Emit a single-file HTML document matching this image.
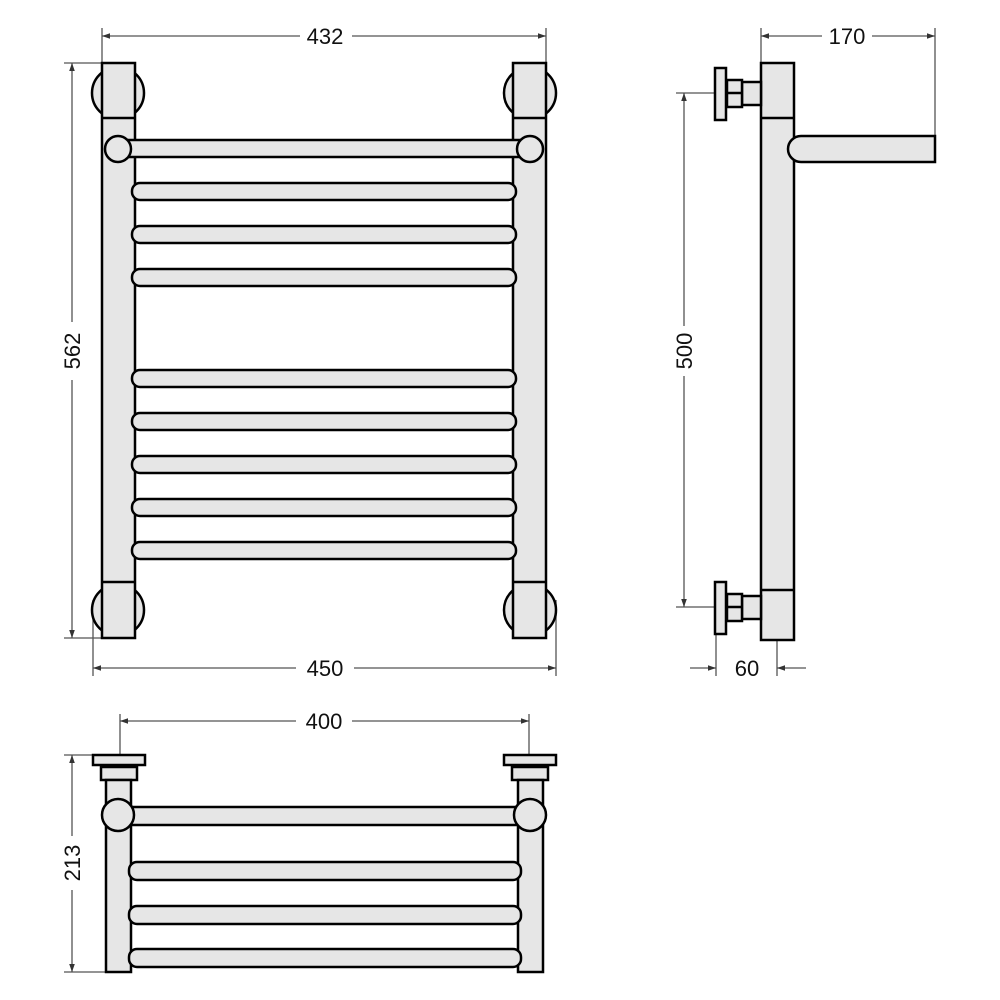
<!DOCTYPE html>
<html><head><style>body{margin:0;background:#fff}svg{display:block}text{font-family:"Liberation Sans",sans-serif;font-size:22px;fill:#111}</style></head><body>
<svg width="1000" height="1000" viewBox="0 0 1000 1000">
<defs>
<marker id="a" viewBox="0 0 10 10" refX="10" refY="5" markerWidth="10" markerHeight="8" orient="auto-start-reverse" markerUnits="userSpaceOnUse"><path d="M0,1.5 L10,5 L0,8.5z" fill="#333"/></marker>
</defs>
<g stroke="#555" stroke-width="1.3" fill="none">
<line x1="102" y1="28" x2="102" y2="63"/><line x1="546" y1="28" x2="546" y2="63"/>
<line x1="102" y1="36" x2="300" y2="36" marker-start="url(#a)"/><line x1="352" y1="36" x2="546" y2="36" marker-end="url(#a)"/>
<line x1="64" y1="63" x2="102" y2="63"/><line x1="64" y1="638" x2="102" y2="638"/>
<line x1="72" y1="63" x2="72" y2="322" marker-start="url(#a)"/><line x1="72" y1="380" x2="72" y2="638" marker-end="url(#a)"/>
<line x1="93" y1="600" x2="93" y2="676"/><line x1="556" y1="600" x2="556" y2="676"/>
<line x1="93" y1="668" x2="296" y2="668" marker-start="url(#a)"/><line x1="354" y1="668" x2="556" y2="668" marker-end="url(#a)"/>
<line x1="761" y1="28" x2="761" y2="63"/><line x1="935" y1="28" x2="935" y2="136"/>
<line x1="761" y1="36" x2="822" y2="36" marker-start="url(#a)"/><line x1="872" y1="36" x2="935" y2="36" marker-end="url(#a)"/>
<line x1="676" y1="93" x2="715" y2="93"/><line x1="676" y1="607" x2="715" y2="607"/>
<line x1="684" y1="93" x2="684" y2="326" marker-start="url(#a)"/><line x1="684" y1="376" x2="684" y2="607" marker-end="url(#a)"/>
<line x1="716" y1="630" x2="716" y2="676"/><line x1="777" y1="640" x2="777" y2="676"/>
<line x1="690" y1="668" x2="716" y2="668" marker-end="url(#a)"/><line x1="806" y1="668" x2="777" y2="668" marker-end="url(#a)"/>
<line x1="120" y1="714" x2="120" y2="755"/><line x1="529" y1="714" x2="529" y2="755"/>
<line x1="120" y1="721" x2="296" y2="721" marker-start="url(#a)"/><line x1="352" y1="721" x2="529" y2="721" marker-end="url(#a)"/>
<line x1="64" y1="755" x2="93" y2="755"/><line x1="64" y1="972" x2="106" y2="972"/>
<line x1="72" y1="755" x2="72" y2="836" marker-start="url(#a)"/><line x1="72" y1="890" x2="72" y2="972" marker-end="url(#a)"/>
</g>
<text x="325" y="44" text-anchor="middle">432</text>
<text x="325" y="676" text-anchor="middle">450</text>
<text x="847" y="44" text-anchor="middle">170</text>
<text x="747" y="676" text-anchor="middle">60</text>
<text x="324" y="729" text-anchor="middle">400</text>
<text transform="translate(80,351) rotate(-90)" text-anchor="middle">562</text>
<text transform="translate(692,351) rotate(-90)" text-anchor="middle">500</text>
<text transform="translate(80,863) rotate(-90)" text-anchor="middle">213</text>

<g fill="#e6e6e6" stroke="#000" stroke-width="2.5">
<circle cx="118" cy="93" r="26"/><circle cx="530" cy="93" r="26"/>
<circle cx="118" cy="610" r="26"/><circle cx="530" cy="610" r="26"/>
<rect x="102" y="63" width="33" height="575"/><rect x="513" y="63" width="33" height="575"/>
<line x1="102" y1="118" x2="135" y2="118"/><line x1="513" y1="118" x2="546" y2="118"/>
<line x1="102" y1="582" x2="135" y2="582"/><line x1="513" y1="582" x2="546" y2="582"/>
<rect x="118" y="140" width="412" height="17"/>
<circle cx="118" cy="149" r="13"/><circle cx="530" cy="149" r="13"/>
<rect x="132" y="183" width="384" height="17" rx="8"/>
<rect x="132" y="226" width="384" height="17" rx="8"/>
<rect x="132" y="269" width="384" height="17" rx="8"/>
<rect x="132" y="370" width="384" height="17" rx="8"/>
<rect x="132" y="413" width="384" height="17" rx="8"/>
<rect x="132" y="456" width="384" height="17" rx="8"/>
<rect x="132" y="499" width="384" height="17" rx="8"/>
<rect x="132" y="542" width="384" height="17" rx="8"/>
<rect x="761" y="63" width="33" height="577"/>
<path d="M935,136 H801 A13,13 0 0 0 801,162 H935 Z"/>
<line x1="761" y1="118" x2="794" y2="118"/><line x1="761" y1="590" x2="794" y2="590"/>
<rect x="742" y="82" width="19" height="23"/>
<rect x="727" y="80" width="15" height="27"/><line x1="727" y1="93" x2="742" y2="93"/>
<rect x="715" y="68" width="11" height="52"/>
<rect x="742" y="596" width="19" height="23"/>
<rect x="727" y="594" width="15" height="27"/><line x1="727" y1="607" x2="742" y2="607"/>
<rect x="715" y="582" width="11" height="52"/>
<rect x="93" y="755" width="52" height="10"/><rect x="504" y="755" width="52" height="10"/>
<rect x="101" y="767" width="36" height="13"/><rect x="512" y="767" width="36" height="13"/>
<rect x="106" y="780" width="25" height="192"/><rect x="518" y="780" width="25" height="192"/>
<rect x="118" y="807" width="412" height="18"/>
<circle cx="118" cy="815" r="16"/><circle cx="530" cy="815" r="16"/>
<rect x="129" y="862" width="392" height="18" rx="8"/>
<rect x="129" y="906" width="392" height="18" rx="8"/>
<rect x="129" y="949" width="392" height="18" rx="8"/>
</g>
</svg>
</body></html>
